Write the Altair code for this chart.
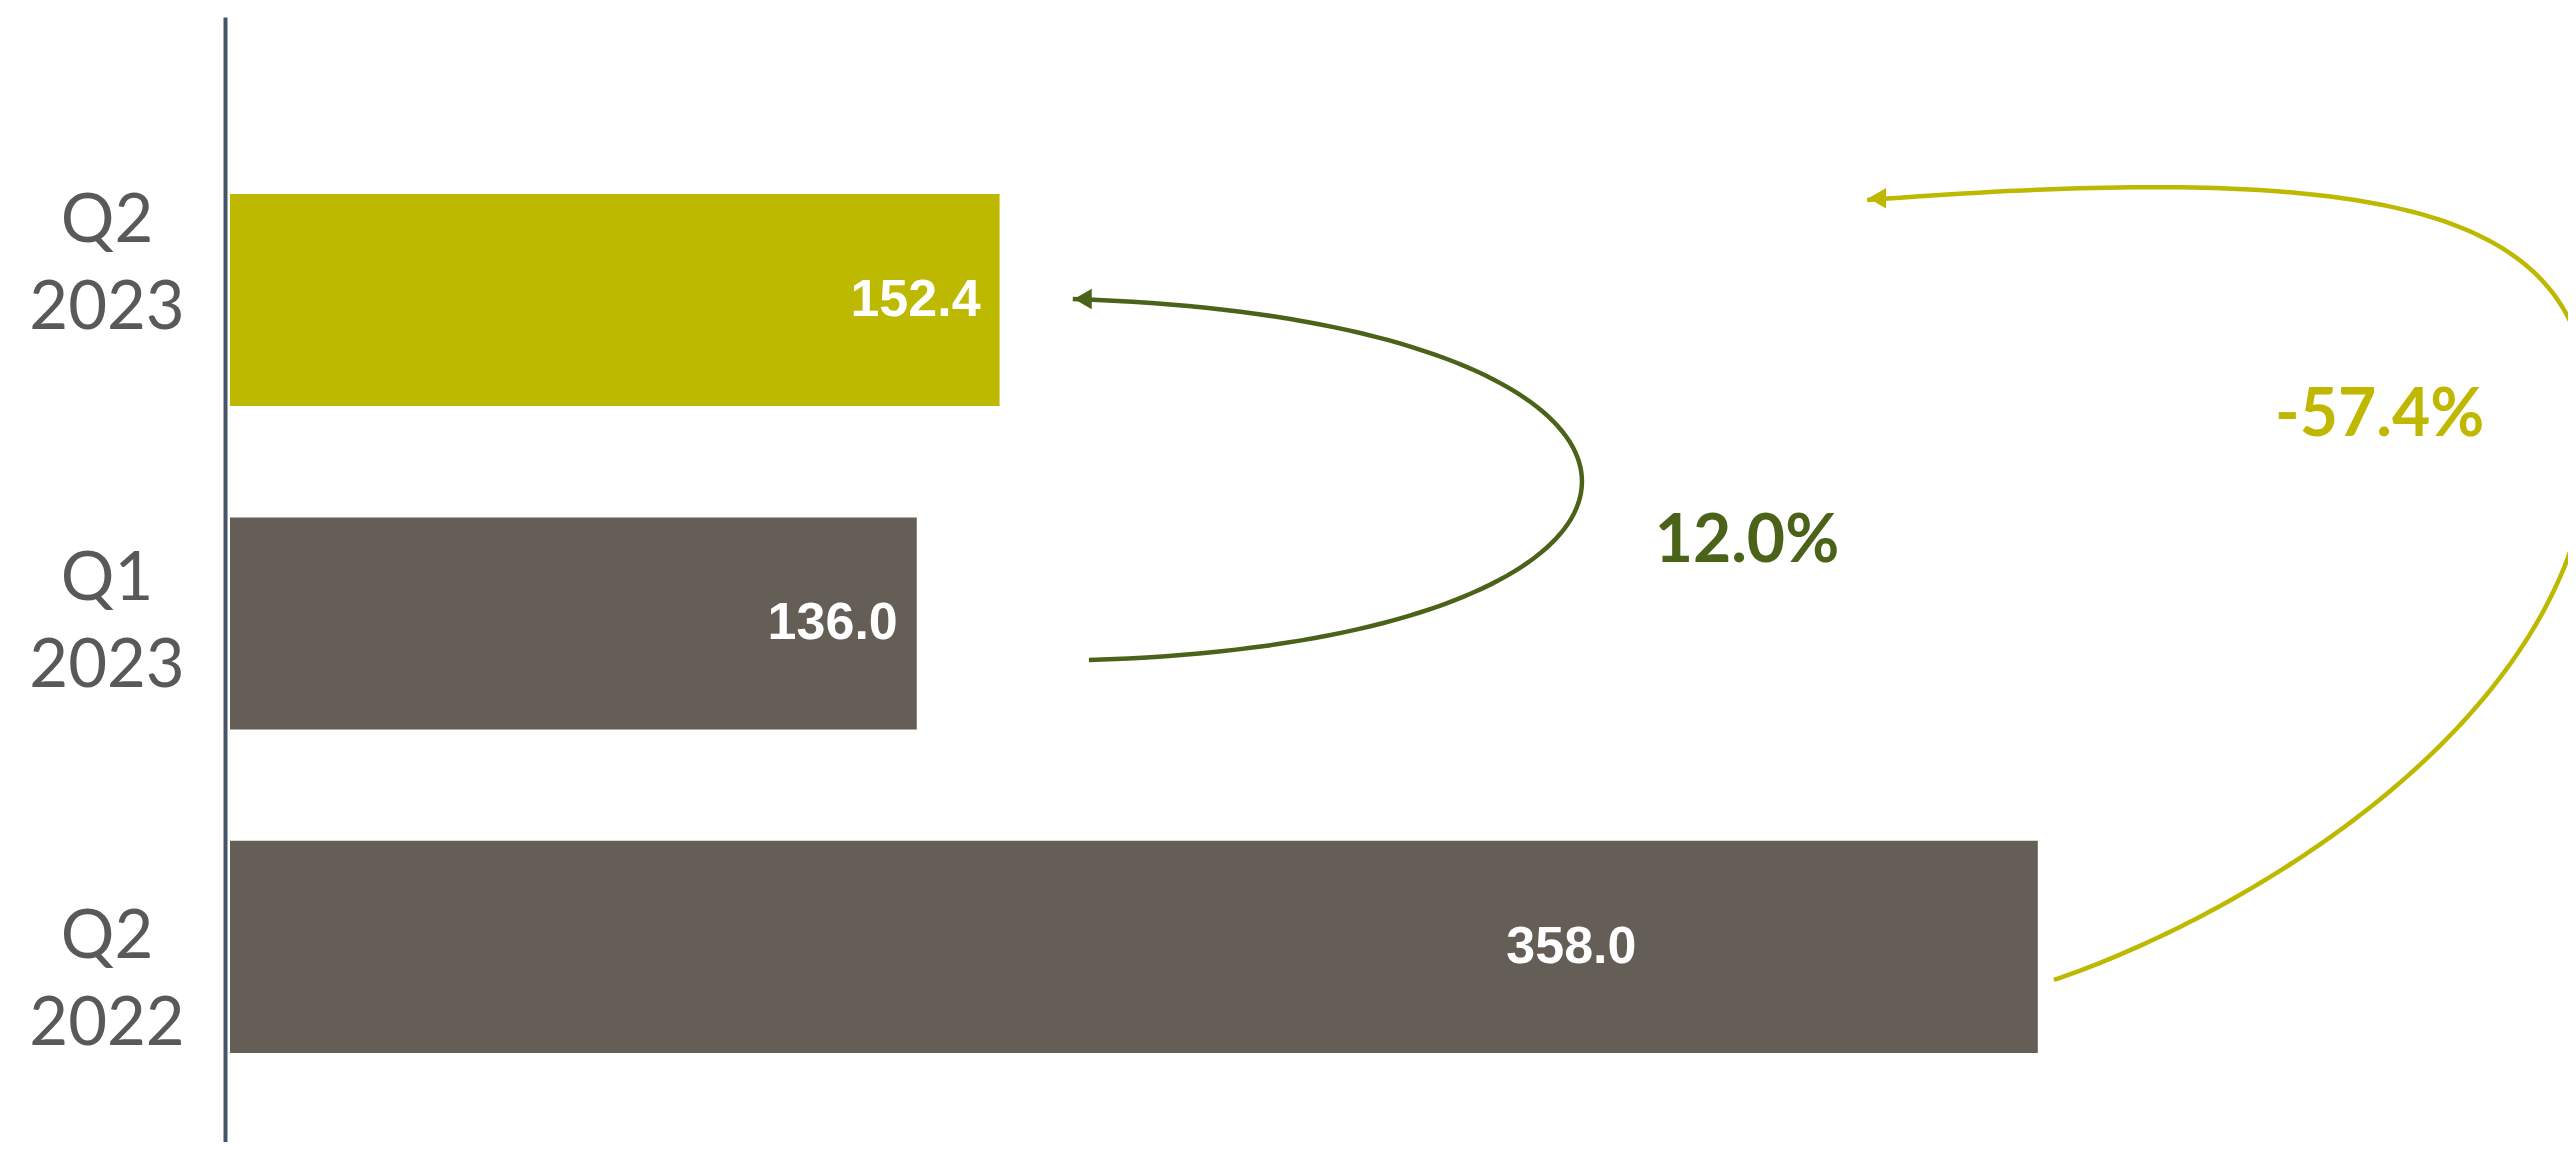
import altair as alt
import pandas as pd
import numpy as np

# ---- data ----
categories = ["Q2 2022", "Q1 2023", "Q2 2023"]
values = [358.0, 136.0, 152.4]
value_labels = ["358.0", "136.0", "152.4"]
bar_colors = ["#655E57", "#655E57", "#BDB800"]

change_labels = ["12.0%", "-57.4%"]
change_colors = ["#4B6319", "#C0B800"]
change_x = [300.4, 425.7]
change_y = [1.252, 1.641]

# arrow geometry: cubic bezier control points (value units, category-index units)
green_arrow = [(170.1, 0.887), (300.8, 0.949), (300.8, 1.938), (166.9, 2.003)]
yellow_arrow_a = [(361.2, -0.102), (400.8, 0.108), (467.7, 0.733), (467.7, 1.598)]
yellow_arrow_b = [(467.7, 1.598), (467.7, 2.263), (433.3, 2.439), (324.2, 2.309)]

GREEN = "#4B6319"
YELLOW = "#BDB800"

# ---- tables ----
idx = list(range(len(categories)))
bars = pd.DataFrame({
    "cat": categories, "value": values, "label": value_labels,
    "color": bar_colors, "idx": idx,
})
bars["zero"] = 0.0
bars["y0"] = bars["idx"] - 0.328
bars["y1"] = bars["idx"] + 0.328
bars["label_y"] = 1 + (bars["idx"] - 1) * 1.106


def bezier(pts, n=100):
    p = np.array(pts, dtype=float)
    t = np.linspace(0, 1, n)[:, None]
    return ((1 - t) ** 3) * p[0] + 3 * ((1 - t) ** 2) * t * p[1] + 3 * (1 - t) * t ** 2 * p[2] + t ** 3 * p[3]


g = bezier(green_arrow)
ya = bezier(yellow_arrow_a)
yb = bezier(yellow_arrow_b)
yc = np.vstack([ya, yb[1:]])
curves = pd.concat([
    pd.DataFrame({"x": g[:, 0], "y": g[:, 1], "o": range(len(g)), "s": "g"}),
    pd.DataFrame({"x": yc[:, 0], "y": yc[:, 1], "o": range(len(yc)), "s": "y"}),
])
heads = pd.DataFrame({
    "x": [green_arrow[3][0] + 2.0, yellow_arrow_b[3][0] + 2.0],
    "y": [green_arrow[3][1], yellow_arrow_b[3][1] + 0.006],
    "s": ["g", "y"],
})
changes = pd.DataFrame({"t": change_labels, "c": change_colors, "x": change_x, "y": change_y})

xs = alt.Scale(domain=[0, 462.6], nice=False, zero=False)
ys = alt.Scale(domain=[-0.603, 2.875], nice=False, zero=False)
col_scale = alt.Scale(domain=["g", "y"], range=[GREEN, YELLOW])

base_bars = alt.Chart(bars)

bar_layer = base_bars.mark_rect(clip=False).encode(
    x=alt.X("zero:Q", scale=xs, axis=None),
    x2="value:Q",
    y=alt.Y("y0:Q", scale=ys, title=None,
            axis=alt.Axis(labels=False, ticks=False, grid=False, domainColor="#44546A",
                          domainWidth=4, offset=5)),
    y2="y1:Q",
    color=alt.Color("color:N", scale=None),
)

end_labels = base_bars.transform_filter("datum.idx > 0").mark_text(
    align="right", baseline="middle", dx=-19, font="Liberation Sans", fontWeight="bold",
    fontSize=52, color="white", clip=False,
).encode(
    x=alt.X("value:Q", scale=xs, axis=None),
    y=alt.Y("idx:Q", scale=ys, title=None),
    text="label:N",
)

mid_labels = base_bars.transform_filter("datum.idx == 0").transform_calculate(
    lx="datum.value * 0.742"
).mark_text(
    align="center", baseline="middle", font="Liberation Sans", fontWeight="bold",
    fontSize=52, color="white", clip=False,
).encode(
    x=alt.X("lx:Q", scale=xs, axis=None),
    y=alt.Y("idx:Q", scale=ys, title=None),
    text="label:N",
)

cat_labels = base_bars.mark_text(
    align="center", baseline="middle", font="Lato", fontSize=67, lineHeight=87,
    lineBreak=" ", color="#595959", clip=False, dy=-43.5,
).encode(
    x=alt.value(-123),
    y=alt.Y("label_y:Q", scale=ys, title=None),
    text="cat:N",
)

curve_layer = alt.Chart(curves).mark_line(strokeWidth=4.5, clip=False).encode(
    x=alt.X("x:Q", scale=xs, axis=None),
    y=alt.Y("y:Q", scale=ys, title=None),
    order="o:Q",
    detail="s:N",
    color=alt.Color("s:N", scale=col_scale, legend=None),
)

head_layer = alt.Chart(heads).mark_point(
    shape="triangle-left", filled=True, size=420, opacity=1, clip=False
).encode(
    x=alt.X("x:Q", scale=xs, axis=None),
    y=alt.Y("y:Q", scale=ys, title=None),
    color=alt.Color("s:N", scale=col_scale, legend=None),
)

change_layer = alt.Chart(changes).mark_text(
    align="center", baseline="middle", font="Lato", fontWeight="bold", fontSize=66, clip=False,
).encode(
    x=alt.X("x:Q", scale=xs, axis=None),
    y=alt.Y("y:Q", scale=ys, title=None),
    text="t:N",
    color=alt.Color("c:N", scale=None),
)

chart = alt.layer(
    bar_layer, end_labels, mid_labels, cat_labels, curve_layer, head_layer, change_layer
).properties(
    width=2336, height=1125,
    padding={"left": 222, "top": 9, "right": 2, "bottom": 0},
    autosize=alt.AutoSizeParams(type="none"),
    background="white",
).configure_view(strokeWidth=0)

chart.save("out.html", embed_options={"renderer": "svg", "actions": False})
